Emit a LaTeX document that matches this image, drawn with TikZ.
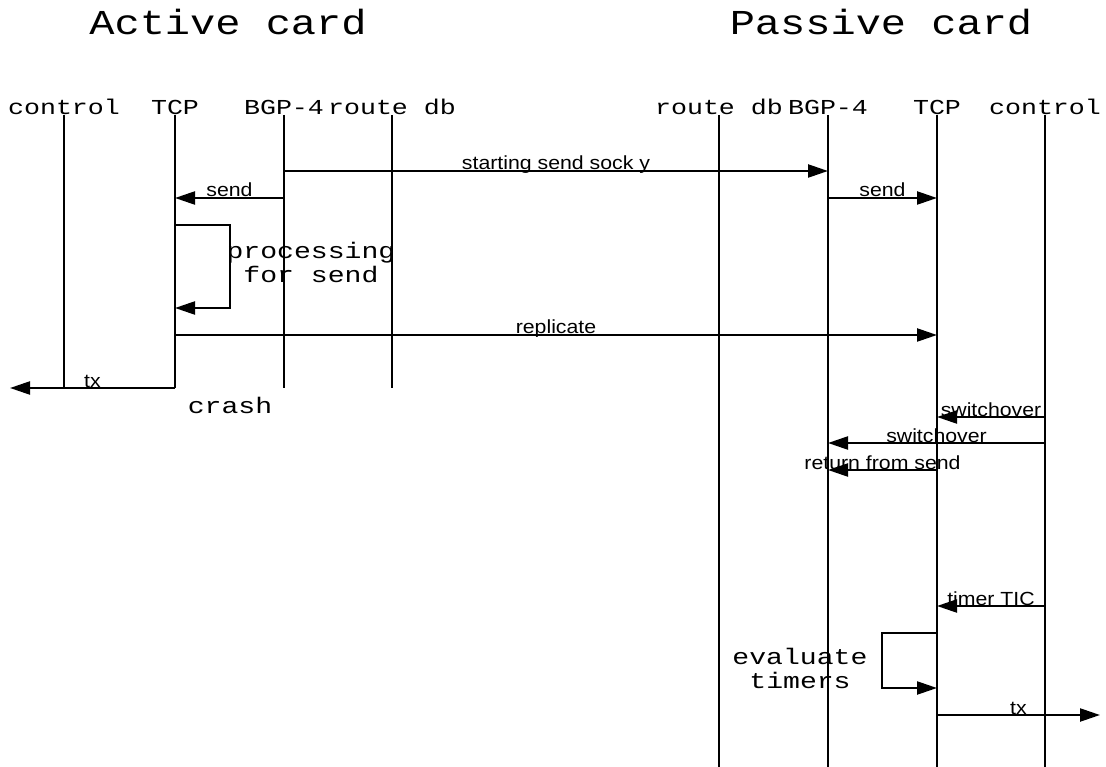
\documentclass[tikz,border=0pt]{standalone}
\usepackage{fontspec}
\setmainfont{Liberation Sans}[FakeStretch=1.12]
\newfontfamily\courier{Liberation Mono}[FakeStretch=1.25]
\newfontfamily\courierhead{Liberation Mono}[FakeStretch=1.2]
\usetikzlibrary{arrows.meta}
\tikzset{
  life/.style  ={line width=2.3pt},
  msg/.style   ={line width=2.3pt, -{Triangle[length=20pt,width=13pt]}},
  head/.style  ={font=\courierhead\fontsize{35}{40}\selectfont, anchor=base, inner sep=0pt},
  actor/.style ={font=\courier\fontsize{21.3}{26}\selectfont, anchor=base, inner sep=0pt},
  note/.style  ={font=\courier\fontsize{22.5}{24}\selectfont, align=center, inner sep=0pt},
  mlabel/.style={font=\fontsize{19}{22}\selectfont, midway, anchor=base,
                 inner sep=0pt, yshift=1pt},
}

\begin{document}
\begin{tikzpicture}[x=1pt, y=-1pt]
  \useasboundingbox (0,0) rectangle (1106,767);

  \node[head] (act) at (228,35) {Active card};
  \node[head] (pas) at (881,35) {Passive card};

  % active card
  \node[actor] (ctlA) at (64,115)  {control};
  \node[actor] (tcpA) at (175,115) {TCP};
  \node[actor] (bgpA) at (284,115) {BGP-4};
  \node[actor] (rdbA) at (392,115) {route db};
  % passive card
  \node[actor] (rdbP) at (719,115)  {route db};
  \node[actor] (bgpP) at (828,115)  {BGP-4};
  \node[actor] (tcpP) at (937,115)  {TCP};
  \node[actor] (ctlP) at (1045,115) {control};

  \foreach \n in {ctlA,tcpA,bgpA,rdbA}
    \draw[life] (\n.base) -- ++(0,273);
  \foreach \n in {rdbP,bgpP,tcpP,ctlP}
    \draw[life] (\n.base) -- ++(0,652);

  \coordinate (txA) at (10,388);
  \coordinate (txP) at (1100,715);

  \draw[msg] (bgpA |- 0,171) -- node[mlabel] {starting send sock y} (bgpP |- 0,171);
  \draw[msg] (bgpA |- 0,198) -- node[mlabel] {send} (tcpA |- 0,198);
  \draw[msg] (bgpP |- 0,198) -- node[mlabel] {send} (tcpP |- 0,198);

  \draw[msg] (tcpA |- 0,225) -- ++(55,0) -- ++(0,83) -- (tcpA |- 0,308);
  \node[note] (proc) at (311,262) {processing\\for send};

  \draw[msg] (tcpA |- 0,335) -- node[mlabel] {replicate} (tcpP |- 0,335);
  \draw[msg] (tcpA |- 0,388) -- node[mlabel] {tx} (txA);
  \node[note, anchor=base] (crash) at (230,413) {crash};

  \draw[msg] (ctlP |- 0,417) -- node[mlabel] {switchover} (tcpP |- 0,417);
  \draw[msg] (ctlP |- 0,443) -- node[mlabel] {switchover} (bgpP |- 0,443);
  \draw[msg] (tcpP |- 0,470) -- node[mlabel] {return from send} (bgpP |- 0,470);

  \draw[msg] (ctlP |- 0,606) -- node[mlabel] {timer TIC} (tcpP |- 0,606);
  \draw[msg] (tcpP |- 0,633) -- ++(-55,0) -- ++(0,55) -- (tcpP |- 0,688);
  \node[note] (eval) at (800,668) {evaluate\\timers};
  \draw[msg] (tcpP |- 0,715) -- node[mlabel] {tx} (txP);
\end{tikzpicture}
\end{document}
